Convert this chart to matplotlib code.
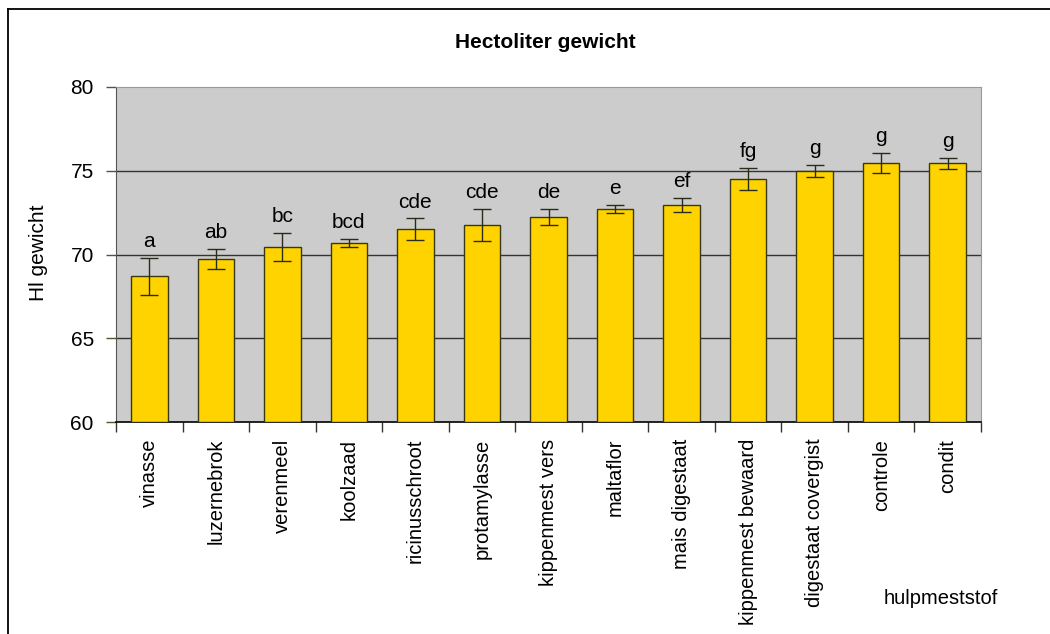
import matplotlib
matplotlib.use("Agg")
import matplotlib.pyplot as plt
from matplotlib.lines import Line2D
import numpy as np

categories = ["vinasse", "luzernebrok", "verenmeel", "koolzaad", "ricinusschroot",
              "protamylasse", "kippenmest vers", "maltaflor", "mais digestaat",
              "kippenmest bewaard", "digestaat covergist", "controle", "condit"]
values = [68.7, 69.75, 70.45, 70.7, 71.5, 71.75, 72.25, 72.7, 72.95, 74.5, 75.0, 75.45, 75.45]
errors = [1.1, 0.6, 0.83, 0.24, 0.65, 0.95, 0.48, 0.24, 0.42, 0.65, 0.36, 0.6, 0.33]
letters = ["a", "ab", "bc", "bcd", "cde", "cde", "de", "e", "ef", "fg", "g", "g", "g"]
yticks = [60, 65, 70, 75, 80]

plt.rcParams['font.family'] = ['Liberation Sans', 'DejaVu Sans']

fig = plt.figure(figsize=(10.5, 6.34), dpi=100)
ax = fig.add_axes([116/1050, 1-422/634, (981-116)/1050, (422-87)/634])
ax.set_facecolor('#CCCCCC')

x = np.arange(len(categories))
ax.bar(x, [v - 60 for v in values], bottom=60, width=0.55, color='#FFD300',
       edgecolor='#3a3814', linewidth=1.0, zorder=3)
ax.errorbar(x, values, yerr=errors, fmt='none', ecolor='#2b2b1a', elinewidth=1.0,
            capsize=6.5, capthick=1.0, zorder=4)

for xi, v, e, lab in zip(x, values, errors, letters):
    ax.annotate(lab, (xi, v + e), xytext=(0, 5), textcoords='offset points',
                ha='center', va='bottom', fontsize=15, color='black', zorder=5)

ax.set_ylim(60, 80)
ax.set_xlim(-0.5, len(categories) - 0.5)
ax.set_yticks(yticks)
ax.set_yticklabels([str(t) for t in yticks], fontsize=15)
for t in [65, 70, 75]:
    ax.axhline(t, color='#333333', linewidth=1.0, zorder=1)

ax.set_xticks(np.arange(-0.5, len(categories), 1.0))
ax.set_xticklabels([])
ax.set_xticks(x, minor=True)
ax.set_xticklabels(categories, minor=True, rotation=90, fontsize=14.5, va='top')
ax.tick_params(axis='x', which='minor', length=0, pad=12)
ax.tick_params(axis='x', which='major', length=7, width=1, color='#333333', direction='out')
ax.tick_params(axis='y', length=7, width=1, color='#555533', direction='out', pad=9)

ax.spines['bottom'].set_color('black')
ax.spines['bottom'].set_linewidth(1.2)
ax.spines['left'].set_color('#555555')
ax.spines['top'].set_color('#999999')
ax.spines['right'].set_color('#999999')

fig.text(545/1050, 1-42/634, "Hectoliter gewicht", ha='center', va='center',
         fontsize=15, fontweight='bold')
fig.text(39/1050, 1-253/634, "Hl gewicht", ha='center', va='center',
         rotation=90, fontsize=15)
fig.text(941/1050, 1-598/634, "hulpmeststof", ha='center', va='center', fontsize=14.5)

# outer chart frame (left and top edges visible)
fig.add_artist(Line2D([8/1050, 8/1050], [0, 1-9/634], transform=fig.transFigure,
                      color='black', linewidth=1.3))
fig.add_artist(Line2D([8/1050, 1], [1-9/634, 1-9/634], transform=fig.transFigure,
                      color='black', linewidth=1.3))

fig.savefig("out.png", dpi=100)
